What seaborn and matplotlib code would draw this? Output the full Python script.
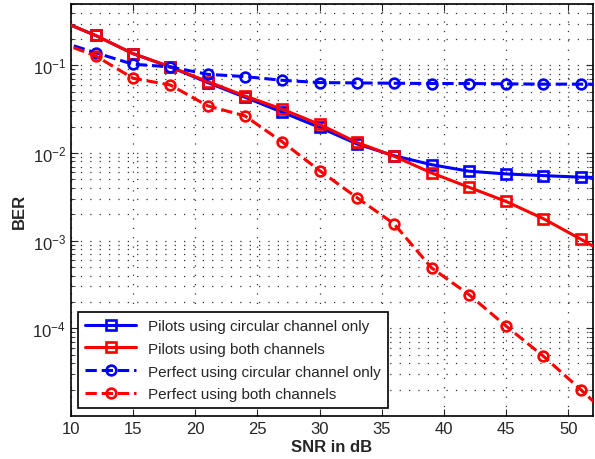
import numpy as np
import pandas as pd
import matplotlib
matplotlib.use("Agg")
import matplotlib.pyplot as plt
import seaborn as sns
from matplotlib.ticker import LogLocator, FixedLocator

snr = [9, 12, 15, 18, 21, 24, 27, 30, 33, 36, 39, 42, 45, 48, 51, 54]
pilots_circ = [0.33, 0.219, 0.136, 0.096, 0.0636, 0.0433, 0.0292, 0.0196, 0.0127, 0.0093,
               0.00736, 0.0062, 0.00577, 0.00552, 0.0053, 0.0052]
pilots_both = [0.33, 0.219, 0.136, 0.096, 0.0653, 0.0448, 0.0316, 0.0212, 0.0132, 0.00917,
               0.00593, 0.00407, 0.0028, 0.00178, 0.00104, 0.0006]
perfect_circ = [0.19, 0.139, 0.103, 0.096, 0.079, 0.0744, 0.0675, 0.0636, 0.063, 0.0625,
                0.062, 0.062, 0.0615, 0.061, 0.061, 0.061]
perfect_both = [0.185, 0.128, 0.0712, 0.0597, 0.0345, 0.0265, 0.0134, 0.0063, 0.0031, 0.00155,
                0.00049, 0.000243, 0.000106, 4.8e-5, 2.0e-5, 8e-6]
labels = ["Pilots using circular channel only", "Pilots using both channels",
          "Perfect using circular channel only", "Perfect using both channels"]

sns.set_style("ticks")
plt.rcParams['font.family'] = ['Liberation Sans', 'DejaVu Sans']
plt.rcParams['mathtext.fontset'] = 'custom'
plt.rcParams['mathtext.rm'] = 'Liberation Sans'
plt.rcParams['mathtext.it'] = 'Liberation Sans'

fig = plt.figure(figsize=(5.95, 4.6), dpi=100)
ax = fig.add_axes([0.119, 0.0935, 0.878, 0.8955])

series = [
    (pilots_circ, (0, 0, 1), 's', '-'),
    (pilots_both, (1, 0, 0), 's', '-'),
    (perfect_circ, (0, 0, 1), 'o', '--'),
    (perfect_both, (1, 0, 0), 'o', '--'),
]
for (vals, col, mk, ls), lab in zip(series, labels):
    df = pd.DataFrame({"SNR": snr, "BER": vals})
    sns.lineplot(data=df, x="SNR", y="BER", ax=ax, color=col, marker=mk,
                 linestyle=ls, linewidth=2.2, markersize=6.5 if mk == 's' else 7,
                 markerfacecolor='none', markeredgecolor=col, markeredgewidth=1.9,
                 dashes=(3.5, 2.4) if ls == '--' else None, label=lab, zorder=3)

ax.set_yscale('log')
ax.set_xlim(10, 52)
ax.set_ylim(1e-5, 0.5)
ax.xaxis.set_major_locator(FixedLocator([10, 15, 20, 25, 30, 35, 40, 45, 50]))
ax.yaxis.set_major_locator(FixedLocator([1e-4, 1e-3, 1e-2, 1e-1]))
ax.yaxis.set_minor_locator(LogLocator(base=10, subs=np.arange(2, 10), numticks=20))
grid_ls = (0, (1, 6.5))
ax.grid(True, which='major', linestyle=grid_ls, color='#333333', linewidth=0.9)
ax.grid(True, which='minor', axis='y', linestyle=grid_ls, color='#333333', linewidth=0.9)
ax.tick_params(which='both', direction='in', top=True, right=True, labelsize=12)
ax.tick_params(which='major', length=5)
ax.tick_params(which='minor', length=3)
for s in ax.spines.values():
    s.set_linewidth(1.2)
    s.set_color('black')
ax.set_xlabel("SNR in dB", fontsize=12, fontweight='bold', labelpad=2)
ax.set_ylabel("BER", fontsize=12, fontweight='bold')

leg = ax.legend(loc='lower left', fontsize=11, frameon=True, fancybox=False,
                edgecolor='black', framealpha=1, borderaxespad=0.5,
                handlelength=3.3, labelspacing=0.58, borderpad=0.45)
leg.get_frame().set_linewidth(1.2)

fig.savefig("out.png", dpi=100)
